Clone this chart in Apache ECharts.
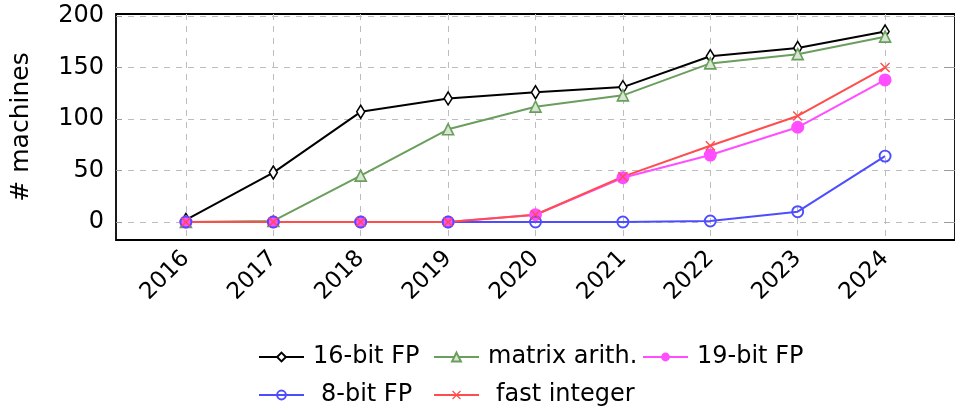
<!DOCTYPE html>
<html>
<head>
<meta charset="utf-8">
<script src="https://cdn.jsdelivr.net/npm/echarts@6/dist/echarts.min.js"></script>
<style>html,body{margin:0;padding:0;background:#fff}#c{width:955px;height:410px}</style>
</head>
<body>
<div id="c"></div>
<script>
const years = [2016, 2017, 2018, 2019, 2020, 2021, 2022, 2023, 2024];
const yTicks = [0, 50, 100, 150, 200];
const fp16 = [2, 48, 107, 120, 126, 131, 161, 169, 185];
const matrixArith = [0, 1, 45, 90, 112, 123, 154, 163, 180];
const fp19 = [0, 0, 0, 0, 7, 43, 65, 92, 138];
const fp8 = [0, 0, 0, 0, 0, 0, 1, 10, 64];
const fastInteger = [0, 0, 0, 0, 7, 44, 74, 103, 150];

const FONT = 'DejaVu Sans';
const pair = arr => years.map((y, i) => [y, arr[i]]);
const crossPath = 'path://M1,0L5,4L9,0L10,1L6,5L10,9L9,10L5,6L1,10L0,9L4,5L0,1Z';

const chart = echarts.init(document.getElementById('c'), null, {renderer: 'canvas'});

function mkLegend(name, left, top, padLeft) {
  return {
    data: [name], left: left, top: top, orient: 'horizontal',
    itemWidth: 45, itemHeight: 11, itemGap: 0, padding: 0,
    textStyle: {fontFamily: FONT, fontSize: 24, color: '#000', padding: [0, 0, 0, padLeft]},
    selectedMode: false
  };
}

const option = {
  animation: false,
  backgroundColor: '#fff',
  grid: {left: 116, top: 14, right: -3, bottom: 170, show: true, borderColor: '#000', borderWidth: 1.8, containLabel: false},
  legend: [
    mkLegend('16-bit FP', 258, 345, 4),
    mkLegend('matrix arith.', 433, 345, 4),
    mkLegend('19-bit FP', 642, 345, 4),
    mkLegend('8-bit FP', 258, 383, 12),
    mkLegend('fast integer', 433, 383, 12)
  ],
  xAxis: {
    type: 'value', min: 2015.2, max: 2024.8,
    axisLine: {show: false},
    axisTick: {show: false, customValues: years},
    axisLabel: {customValues: years, rotate: 45, margin: 15, fontFamily: FONT, fontSize: 23, color: '#000', formatter: v => String(v)},
    splitLine: {show: true, lineStyle: {color: '#bdbdbd', type: [6, 6], width: 1}}
  },
  yAxis: [{
    type: 'value', min: -17.5, max: 202,
    name: '# machines', nameLocation: 'middle', nameGap: 82,
    nameTextStyle: {fontFamily: FONT, fontSize: 25, color: '#000'},
    axisLine: {show: false},
    axisTick: {show: true, inside: true, length: 6, customValues: yTicks, lineStyle: {color: '#9a9a9a'}},
    axisLabel: {customValues: yTicks, margin: 12, fontFamily: FONT, fontSize: 24, color: '#000'},
    splitLine: {show: true, lineStyle: {color: '#bdbdbd', type: [6, 6], width: 1}}
  }, {
    type: 'value', min: -17.5, max: 202, position: 'right',
    axisLine: {show: false},
    axisTick: {show: true, inside: true, length: 11, customValues: yTicks, lineStyle: {color: '#9a9a9a'}},
    axisLabel: {show: false},
    splitLine: {show: false}
  }],
  series: [
    {
      name: '16-bit FP', type: 'line', data: pair(fp16), color: '#000',
      symbol: 'diamond', symbolSize: [8, 13], showAllSymbol: true,
      lineStyle: {color: '#000', width: 2},
      itemStyle: {color: '#fff', borderColor: '#000', borderWidth: 1.6}
    },
    {
      name: 'matrix arith.', type: 'line', data: pair(matrixArith), color: '#6a9e5c',
      symbol: 'triangle', symbolSize: 11,
      lineStyle: {color: '#6a9e5c', width: 2},
      itemStyle: {color: '#d6e6d0', borderColor: '#6a9e5c', borderWidth: 1.6}
    },
    {
      name: '19-bit FP', type: 'line', data: pair(fp19), color: '#ff4dff',
      symbol: 'circle', symbolSize: 13,
      lineStyle: {color: '#ff4dff', width: 2},
      itemStyle: {color: '#ff4dff', borderColor: '#ff4dff', borderWidth: 0}
    },
    {
      name: '8-bit FP', type: 'line', data: pair(fp8), color: '#4d4dff',
      symbol: 'circle', symbolSize: 11,
      lineStyle: {color: '#4d4dff', width: 2},
      itemStyle: {color: 'rgba(255,255,255,0)', borderColor: '#4d4dff', borderWidth: 1.9}
    },
    {
      name: 'fast integer', type: 'line', data: pair(fastInteger), color: '#ff4d4d',
      symbol: crossPath, symbolSize: 10,
      lineStyle: {color: '#ff4d4d', width: 2},
      itemStyle: {color: '#ff4d4d', borderWidth: 0}
    }
  ]
};
chart.setOption(option);
</script>
</body>
</html>
